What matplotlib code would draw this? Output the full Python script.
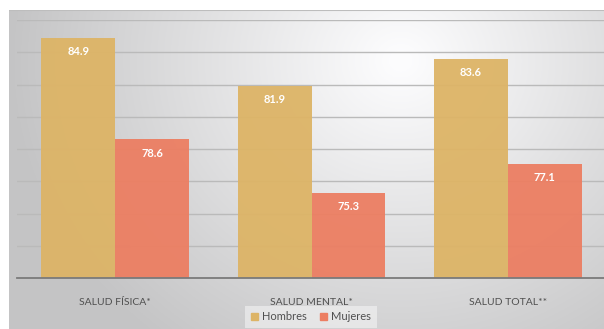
import numpy as np
import matplotlib
matplotlib.use("Agg")
import matplotlib.pyplot as plt
from matplotlib.patches import Patch

categories = ["SALUD FÍSICA*", "SALUD MENTAL*", "SALUD TOTAL**"]
hombres = [84.9, 81.9, 83.6]
mujeres = [78.6, 75.3, 77.1]
series_names = ["Hombres", "Mujeres"]
c_h = "#DDB466"
c_m = "#EC7E62"

plt.rcParams['font.family'] = ['Lato', 'DejaVu Sans']

W, H = 604, 329
fig = plt.figure(figsize=(W/100, H/100), dpi=100)

# background panel with gradient
bg = fig.add_axes([9/W, 0, 1-9/W, (H-10)/H])
bg.set_axis_off()
ny, nx = 200, 400
yy, xx = np.mgrid[0:ny, 0:nx]
px = xx / nx * (W-9) + 9
py = yy / ny * (H-10) + 10
d = np.sqrt(((px-400)/330)**2 + ((py-60)/300)**2)
val = np.clip(0.995 - 0.19*d, 0.77, 0.99)
img = np.dstack([val, val, val*1.005]).clip(0, 1)
bg.imshow(img, extent=[0, 1, 0, 1], aspect='auto', origin='upper')
bg.set_xlim(0, 1); bg.set_ylim(0, 1)
bg.axhline(1, color="#bdbdbd", lw=1.5)

ax = fig.add_axes([17/W, (H-278)/H, 589/W, 258/H])
ax.patch.set_alpha(0)
x = np.arange(len(categories))
w = 0.376
b1 = ax.bar(x - w/2, hombres, w, color=c_h, alpha=0.95, zorder=2)
b2 = ax.bar(x + w/2, mujeres, w, color=c_m, alpha=0.95, zorder=2)
ax.set_ylim(70, 86)
ax.set_xlim(-0.5, 2.5)
ax.set_yticks(np.arange(72, 87, 2))
ax.yaxis.grid(True, color="#bababa", lw=1.0, zorder=0)
ax.set_axisbelow(True)
for s in ["top", "right", "left"]:
    ax.spines[s].set_visible(False)
ax.spines["bottom"].set_color("#7a7a7a")
ax.spines["bottom"].set_linewidth(1.3)
ax.tick_params(left=False, labelleft=False, bottom=False)
ax.set_xticks(x)
ax.set_xticklabels(categories, fontsize=7.5, color="#505050")
ax.tick_params(axis='x', pad=11)

for bars, vals in ((b1, hombres), (b2, mujeres)):
    for r, v in zip(bars, vals):
        ax.annotate(f"{v:.1f}", (r.get_x() + r.get_width()/2, v),
                    xytext=(0, -6), textcoords="offset points",
                    ha="center", va="top", color="white",
                    fontsize=8, fontweight="bold", zorder=3)

handles = [Patch(color=c_h), Patch(color=c_m)]
leg = fig.legend(handles, series_names, loc="center", bbox_to_anchor=(311/W, 1-317/H),
                 ncol=2, frameon=True, fontsize=8, handlelength=0.6, handleheight=0.6,
                 handletextpad=0.4, columnspacing=1.2, borderpad=0.5)
leg.get_frame().set_facecolor("white")
leg.get_frame().set_alpha(0.45)
leg.get_frame().set_edgecolor("none")
leg.get_frame().set_boxstyle("square", pad=0)
for t in leg.get_texts():
    t.set_color("#505050")

fig.savefig("out.png", dpi=100)
